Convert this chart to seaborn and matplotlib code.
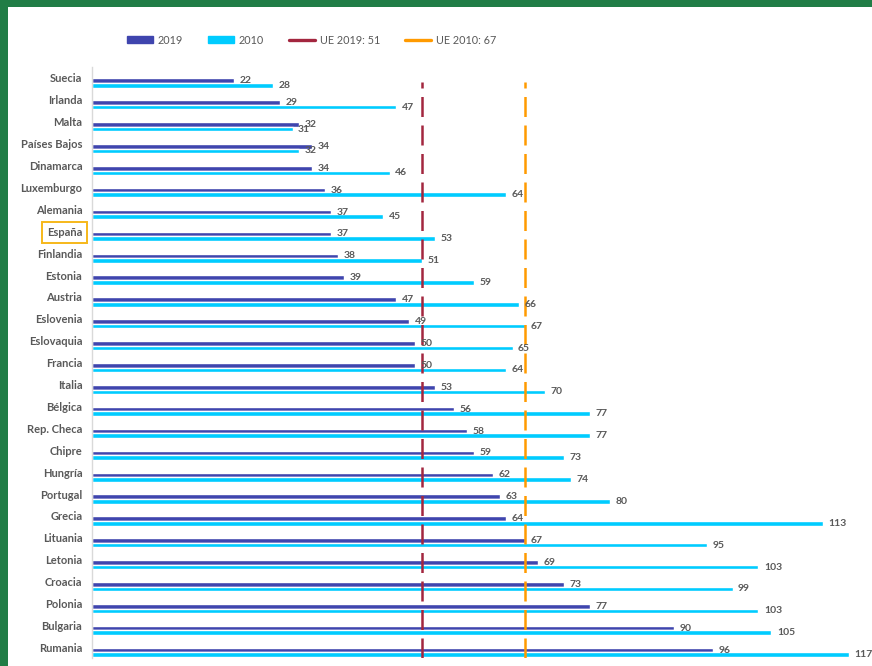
import matplotlib
matplotlib.use("Agg")
import matplotlib.pyplot as plt
import matplotlib.transforms as mtransforms
from matplotlib.patches import Rectangle
import seaborn as sns
import pandas as pd

countries = ["Suecia", "Irlanda", "Malta", "Países Bajos", "Dinamarca", "Luxemburgo",
             "Alemania", "España", "Finlandia", "Estonia", "Austria", "Eslovenia",
             "Eslovaquia", "Francia", "Italia", "Bélgica", "Rep. Checa", "Chipre",
             "Hungría", "Portugal", "Grecia", "Lituania", "Letonia", "Croacia",
             "Polonia", "Bulgaria", "Rumania"]
values_2019 = [22, 29, 32, 34, 34, 36, 37, 37, 38, 39, 47, 49, 50, 50, 53, 56, 58, 59,
               62, 63, 64, 67, 69, 73, 77, 90, 96]
values_2010 = [28, 47, 31, 32, 46, 64, 45, 53, 51, 59, 66, 67, 65, 64, 70, 77, 77, 73,
               74, 80, 113, 95, 103, 99, 103, 105, 117]
series_names = ["2019", "2010"]
ue_2019 = 51
ue_2010 = 67
highlight = "España"

sns.set_style("white")
plt.rcParams["font.family"] = ["Lato", "DejaVu Sans"]

c2019 = "#3F45AE"
c2010 = "#00CCFF"
cue19 = "#A3263F"
cue10 = "#FF9A00"
grey = "#595959"

df = pd.DataFrame({
    "country": countries * 2,
    "value": values_2019 + values_2010,
    "year": [series_names[0]] * len(countries) + [series_names[1]] * len(countries),
})

fig = plt.figure(figsize=(8.72, 6.66), dpi=100)
W, H = 872, 666
ax = fig.add_axes([92 / W, 1 - 658 / H, 780 / W, 591 / H])

sns.barplot(data=df, y="country", x="value", hue="year", order=countries,
            hue_order=series_names, palette=[c2019, c2010], orient="h",
            width=0.42, saturation=1, dodge=True, legend=False, ax=ax)

for cont in ax.containers:
    ax.bar_label(cont, fmt="{:.0f}", padding=4, fontsize=7.5, fontweight="bold",
                 color=grey)

ax.set_xlim(0, 120.56)
ax.set_ylim(26.26, -0.73)

l1 = ax.axvline(ue_2019, ymin=0, ymax=0.975, color=cue19, lw=1.8,
                linestyle=(0, (8, 3.4)), label=f"UE 2019: {ue_2019}")
l2 = ax.axvline(ue_2010, ymin=0, ymax=0.975, color=cue10, lw=1.8,
                linestyle=(0, (8, 3.4)), label=f"UE 2010: {ue_2010}")

ax.set_xlabel("")
ax.set_ylabel("")
ax.set_xticks([])
for s in ["top", "right", "bottom"]:
    ax.spines[s].set_visible(False)
ax.spines["left"].set_color("#D9D9D9")
ax.spines["left"].set_linewidth(1.0)
ax.tick_params(axis="y", length=0, pad=7, labelsize=8, labelcolor=grey)

offset = mtransforms.ScaledTranslation(0, 0.05, fig.dpi_scale_trans)
for lab in ax.get_yticklabels():
    lab.set_fontweight("bold")
    lab.set_transform(lab.get_transform() + offset)
    if lab.get_text() == highlight:
        lab.set_bbox(dict(boxstyle="square,pad=0.45", facecolor="none",
                          edgecolor="#F6B81A", linewidth=1.4))

# legend
handles = [Rectangle((0, 0), 1, 1, color=c2019), Rectangle((0, 0), 1, 1, color=c2010),
           plt.Line2D([], [], color=cue19, lw=2.4), plt.Line2D([], [], color=cue10, lw=2.4)]
labels = series_names + [f"UE 2019: {ue_2019}", f"UE 2010: {ue_2010}"]
fig.legend(handles, labels, loc="center left", bbox_to_anchor=(127 / W, 1 - 40 / H),
           ncol=4, frameon=False, fontsize=7.8, labelcolor=grey, handlelength=2.4,
           handleheight=0.6, handletextpad=0.45, columnspacing=2.3, borderpad=0,
           borderaxespad=0)

# green frame (top and left)
fig.patches.append(Rectangle((0, 1 - 7 / H), 1, 7 / H, transform=fig.transFigure,
                             facecolor="#217D46", edgecolor="none", zorder=10))
fig.patches.append(Rectangle((0, 0), 8 / W, 1, transform=fig.transFigure,
                             facecolor="#217D46", edgecolor="none", zorder=10))

fig.savefig("out.png", dpi=100)
